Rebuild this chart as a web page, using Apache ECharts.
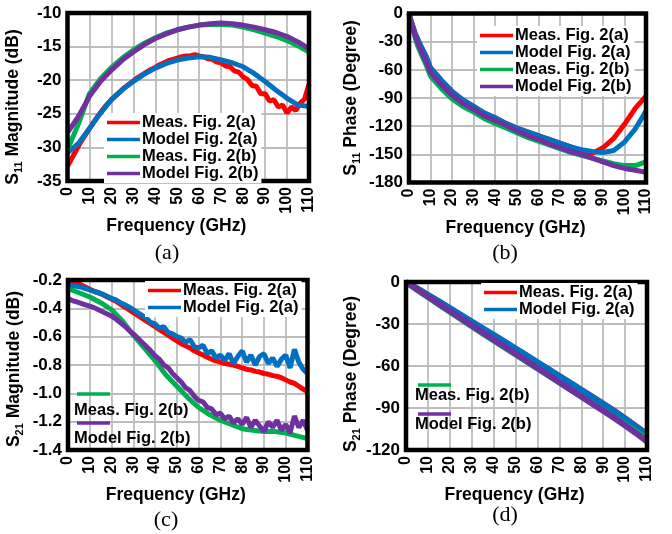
<!DOCTYPE html>
<html><head><meta charset="utf-8">
<script src="https://cdn.jsdelivr.net/npm/echarts@6/dist/echarts.min.js"></script>
<style>html,body{margin:0;padding:0;background:#fff}#c{width:672px;height:534px}</style>
</head><body><div id="c"></div>
<script>
// ---------- tick labels / axes ----------
const freqTicks = [0,10,20,30,40,50,60,70,80,90,100,110];
const names = ['Meas. Fig. 2(a)','Model Fig. 2(a)','Meas. Fig. 2(b)','Model Fig. 2(b)'];
const colors = ['#ff0000','#0070c0','#00b050','#7030a0'];

// frequency grids (GHz)
const f2 = [0,2,4,6,8,10,12,14,16,18,20,22,24,26,28,30,32,34,36,38,40,42,44,46,48,50,52,54,56,58,60,62,64,66,68,70,72,74,76,78,80,82,84,86,88,90,92,94,96,98,100,102,104,106,108,110];
const f5 = [0,5,10,15,20,25,30,35,40,45,50,55,60,65,70,75,80,85,90,95,100,105,110];
const fPh = [0,1,2,3,4,6,8,10,15,20,25,30,35,40,45,50,55,60,65,70,75,80,85,90,95,100,105,110];

// (a) S11 magnitude (dB)
const s11magMeasA = [-32.8,-31.6,-30.4,-29.2,-28.2,-27.2,-26.2,-25.3,-24.4,-23.6,-22.9,-22.3,-21.7,-21.1,-20.6,-20.1,-19.6,-19.2,-18.8,-18.4,-18.1,-17.7,-17.4,-17.1,-16.9,-16.7,-16.5,-16.4,-16.4,-16.2,-16.4,-16.5,-16.8,-16.9,-17.3,-17.4,-17.9,-18.0,-18.6,-18.8,-19.5,-19.9,-20.8,-20.9,-22.0,-22.0,-23.1,-22.9,-24.0,-23.7,-24.9,-24.0,-24.5,-23.4,-22.8,-20.6];
const s11magModelA = [-30.8,-29.4,-27.2,-24.9,-22.9,-21.4,-20.2,-19.1,-18.2,-17.5,-17.0,-16.7,-16.5,-16.6,-17.0,-17.4,-18.0,-19.0,-20.2,-21.5,-22.7,-23.7,-23.9];
const s11magMeasB = [-30.3,-26.5,-22.0,-19.8,-18.1,-16.7,-15.5,-14.5,-13.7,-13.0,-12.5,-12.1,-11.8,-11.7,-11.7,-11.8,-12.1,-12.5,-13.0,-13.5,-14.1,-14.9,-15.8];
const s11magModelB = [-27.8,-25.4,-22.4,-20.2,-18.5,-17.0,-15.8,-14.7,-13.8,-13.1,-12.5,-12.1,-11.8,-11.6,-11.5,-11.6,-11.8,-12.1,-12.5,-12.9,-13.5,-14.3,-15.3];

// (b) S11 phase (degree)
const s11phMeasA  = [0,-8,-15,-22,-27,-37,-46,-58,-71,-83,-92,-99,-106,-111,-117,-122,-126,-130,-134,-138,-142,-147,-149,-143,-133,-118,-101,-88];
const s11phModelA = [0,-8,-15,-22,-27,-37,-46,-58,-71,-83,-92,-99,-106,-111,-117,-122,-126,-130,-134,-138,-142,-145,-147,-148,-146,-137,-123,-104];
const s11phMeasB  = [0,-10,-19,-27,-34,-45,-55,-67,-80,-91,-99,-105,-112,-117,-122,-127,-132,-136,-140,-144,-148,-151,-154,-157,-160,-162,-162,-158];
const s11phModelB = [0,-9,-17,-25,-31,-42,-52,-63,-76,-87,-96,-102,-109,-114,-119,-125,-130,-134,-139,-143,-147,-150,-154,-158,-162,-165,-167,-169];

// (c) S21 magnitude (dB)
const s21magMeasA = [-0.20,-0.21,-0.22,-0.235,-0.25,-0.265,-0.28,-0.29,-0.305,-0.32,-0.335,-0.35,-0.37,-0.39,-0.41,-0.43,-0.45,-0.47,-0.49,-0.51,-0.53,-0.55,-0.57,-0.59,-0.61,-0.63,-0.65,-0.665,-0.68,-0.70,-0.715,-0.73,-0.745,-0.76,-0.77,-0.78,-0.79,-0.795,-0.80,-0.81,-0.82,-0.83,-0.835,-0.845,-0.85,-0.86,-0.865,-0.875,-0.88,-0.89,-0.905,-0.92,-0.93,-0.95,-0.97,-0.99];
const s21magModelA = [-0.23,-0.24,-0.245,-0.25,-0.26,-0.27,-0.28,-0.29,-0.30,-0.315,-0.33,-0.34,-0.36,-0.375,-0.39,-0.41,-0.43,-0.45,-0.47,-0.50,-0.51,-0.54,-0.53,-0.57,-0.58,-0.60,-0.61,-0.64,-0.62,-0.67,-0.68,-0.66,-0.72,-0.70,-0.75,-0.73,-0.77,-0.72,-0.79,-0.74,-0.70,-0.78,-0.73,-0.80,-0.74,-0.72,-0.79,-0.75,-0.81,-0.76,-0.73,-0.82,-0.69,-0.78,-0.83,-0.86];
const s21magMeasB = [-0.26,-0.29,-0.32,-0.36,-0.41,-0.49,-0.59,-0.68,-0.77,-0.87,-0.95,-1.03,-1.10,-1.15,-1.19,-1.22,-1.25,-1.26,-1.27,-1.27,-1.28,-1.30,-1.32];
const s21magModelB = [-0.33,-0.345,-0.355,-0.365,-0.375,-0.385,-0.395,-0.41,-0.425,-0.44,-0.455,-0.475,-0.50,-0.525,-0.555,-0.58,-0.61,-0.64,-0.67,-0.70,-0.735,-0.76,-0.80,-0.82,-0.86,-0.89,-0.92,-0.96,-0.98,-1.02,-1.05,-1.06,-1.10,-1.11,-1.15,-1.14,-1.18,-1.16,-1.21,-1.18,-1.22,-1.17,-1.24,-1.19,-1.23,-1.27,-1.20,-1.24,-1.19,-1.26,-1.22,-1.28,-1.16,-1.24,-1.19,-1.26];

// (d) S21 phase (degree)
const s21phMeasA  = [0,-4.6,-9.3,-14.0,-18.8,-23.6,-28.4,-33.2,-38.0,-42.8,-47.7,-52.6,-57.5,-62.4,-67.3,-72.2,-77.1,-82.0,-87.0,-92.0,-97.5,-103.0,-108.5];
const s21phModelA = [0,-4.5,-9.1,-13.8,-18.6,-23.4,-28.2,-33.0,-37.8,-42.6,-47.5,-52.4,-57.3,-62.2,-67.1,-72.0,-77.0,-82.0,-87.0,-92.2,-97.5,-103.2,-109.0];
const s21phMeasB  = [0,-5.5,-10.8,-16.0,-21.3,-26.5,-31.6,-36.7,-41.8,-46.8,-51.8,-56.8,-61.8,-66.8,-71.8,-76.8,-81.8,-86.8,-91.8,-96.8,-101.8,-106.8,-112.0];
const s21phModelB = [0,-5.2,-10.4,-15.5,-20.7,-25.9,-31.0,-36.1,-41.2,-46.3,-51.3,-56.4,-61.4,-66.5,-71.6,-76.7,-81.8,-86.9,-92.0,-97.2,-102.5,-108.0,-114.0];

const yTicksA = [-35,-30,-25,-20,-15,-10];
const yTicksB = [-180,-150,-120,-90,-60,-30,0];
const yTicksC = [-1.4,-1.2,-1.0,-0.8,-0.6,-0.4,-0.2];
const yTicksD = [-120,-90,-60,-30,0];

// ---------- build ----------
const FONT = 'Liberation Sans, Arial, sans-serif';
const grids = [
  {left:67.5, top:13, width:241.5, height:168},
  {left:409, top:13.5, width:237, height:169},
  {left:68, top:280, width:239.5, height:170},
  {left:406, top:282, width:241, height:168}
];
const yDefs = [
  {ticks:yTicksA, title:'{n|S}{s|11}{n| Magnitude (dB)}', dec:0, pad:[0,20,0,0]},
  {ticks:yTicksB, title:'{n|S}{s|11}{n| Phase (Degree)}', dec:0, pad:[0,0,0,0]},
  {ticks:yTicksC, title:'{n|S}{s|21}{n| Magnitude (dB)}', dec:1, pad:[0,8,0,0]},
  {ticks:yTicksD, title:'{n|S}{s|21}{n| Phase (Degree)}', dec:0, pad:[0,16,0,0]}
];
const rich = {
  n:{fontFamily:FONT,fontWeight:'bold',fontSize:17.5,color:'#000',lineHeight:22},
  s:{fontFamily:FONT,fontWeight:'bold',fontSize:11,color:'#000',verticalAlign:'bottom',lineHeight:13}
};
const gridOpt = grids.map(g => Object.assign({show:true, borderColor:'#000', borderWidth:4.5, z:10, backgroundColor:'transparent'}, g));
const xAxes = grids.map((g,i) => ({
  type:'value', gridIndex:i, min:freqTicks[0], max:freqTicks[freqTicks.length-1], interval:freqTicks[1]-freqTicks[0],
  axisLine:{show:false}, axisTick:{show:false},
  splitLine:{show:true, lineStyle:{color:'#bdbdbd', width:1.8}},
  axisLabel:{rotate:90, margin:6, color:'#000', fontFamily:FONT, fontWeight:'bold', fontSize:16, showMinLabel:true, showMaxLabel:true},
  name:'Frequency (GHz)', nameLocation:'middle', nameGap:36,
  nameTextStyle:{color:'#000', fontFamily:FONT, fontWeight:'bold', fontSize:17.5, padding:[0,24,0,0]}
}));
const yAxes = yDefs.map((d,i) => ({
  type:'value', gridIndex:i, min:d.ticks[0], max:d.ticks[d.ticks.length-1],
  interval:+(d.ticks[1]-d.ticks[0]).toFixed(3),
  axisLine:{show:false}, axisTick:{show:false},
  splitLine:{show:true, lineStyle:{color:'#bdbdbd', width:1.8}},
  axisLabel:{margin:6, color:'#000', fontFamily:FONT, fontWeight:'bold', fontSize:17, showMinLabel:true, showMaxLabel:true,
    formatter:v => (+v).toFixed(d.dec)},
  name:d.title, nameLocation:'middle', nameRotate:90, nameGap:i===1?47:43,
  nameTextStyle:{rich:rich, padding:d.pad}
}));

function mk(name, xs, ys, gi, w){
  const idx = names.indexOf(name);
  return {type:'line', name:name, xAxisIndex:gi, yAxisIndex:gi, showSymbol:false, symbol:'none',
    color:colors[idx], lineStyle:{width:w, color:colors[idx]}, clip:true, animation:false,
    data: xs.map((x,k)=>[x, ys[k]])};
}
const series = [
  mk(names[0], f2, s11magMeasA, 0, 5), mk(names[1], f5, s11magModelA, 0, 5),
  mk(names[2], f5, s11magMeasB, 0, 5), mk(names[3], f5, s11magModelB, 0, 5),
  mk(names[0], fPh, s11phMeasA, 1, 5), mk(names[1], fPh, s11phModelA, 1, 5),
  mk(names[2], fPh, s11phMeasB, 1, 5), mk(names[3], fPh, s11phModelB, 1, 5),
  mk(names[0], f2, s21magMeasA, 2, 5), mk(names[1], f2, s21magModelA, 2, 5),
  mk(names[2], f5, s21magMeasB, 2, 5), mk(names[3], f2, s21magModelB, 2, 5),
  mk(names[0], f5, s21phMeasA, 3, 6), mk(names[1], f5, s21phModelA, 3, 6),
  mk(names[2], f5, s21phMeasB, 3, 6), mk(names[3], f5, s21phModelB, 3, 6)
];
function lg(left, top, data){
  return {show:true, orient:'vertical', left:left, top:top, data:data, icon:'rect', itemWidth:33, itemHeight:3.5,
    itemGap:0, backgroundColor:'#fff', padding:[1,3,1,3], selectedMode:false, z:20,
    textStyle:{color:'#000', fontFamily:FONT, fontWeight:'bold', fontSize:16.5, lineHeight:15.5, padding:[0,0,0,-3]}};
}
const legends = [
  lg(104, 113, names),
  lg(477, 26, names),
  lg(145, 281, names.slice(0,2)),
  lg(481, 283, names.slice(0,2))
];
function stackedItem(x, lineY, textY, name){
  return [
    {type:'rect', shape:{x:x, y:lineY-1.75, width:33, height:3.5}, style:{fill:colors[names.indexOf(name)]}, z:30},
    {type:'text', x:x-3, y:textY, style:{text:name, fill:'#000', font:'bold 16.5px '+FONT, verticalAlign:'middle'}, z:30}
  ];
}
const CAP = '22px Liberation Serif, serif';
const graphics = [].concat(
  stackedItem(77, 394, 410, names[2]), stackedItem(77, 423, 438, names[3]),
  stackedItem(418, 385, 395, names[2]), stackedItem(418, 414, 424, names[3]),
  [
    {type:'text', x:167, y:253, style:{text:'(a)', fill:'#000', font:CAP, align:'center', verticalAlign:'middle'}},
    {type:'text', x:505, y:253, style:{text:'(b)', fill:'#000', font:CAP, align:'center', verticalAlign:'middle'}},
    {type:'text', x:166, y:520, style:{text:'(c)', fill:'#000', font:CAP, align:'center', verticalAlign:'middle'}},
    {type:'text', x:505, y:515, style:{text:'(d)', fill:'#000', font:CAP, align:'center', verticalAlign:'middle'}}
  ]
);

const chart = echarts.init(document.getElementById('c'), null, {renderer:'canvas'});
chart.setOption({
  animation:false, backgroundColor:'#fff',
  grid:gridOpt, xAxis:xAxes, yAxis:yAxes, legend:legends, series:series, graphic:graphics
});
</script></body></html>
